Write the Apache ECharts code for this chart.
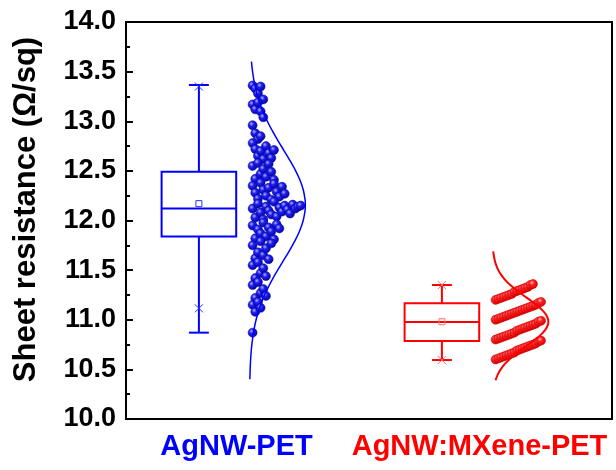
<!DOCTYPE html>
<html><head><meta charset="utf-8">
<script src="https://cdn.jsdelivr.net/npm/echarts@6/dist/echarts.min.js"></script>
<style>html,body{margin:0;padding:0;background:#fff}#c{width:616px;height:470px}</style>
</head><body><div id="c"></div>
<script>
// ---- data ----
const categories = ['AgNW-PET', 'AgNW:MXene-PET'];
const yTicks = [10.0, 10.5, 11.0, 11.5, 12.0, 12.5, 13.0, 13.5, 14.0];
// box stats: [min, Q1, median, Q3, max]
const blueBox = [10.87, 11.84, 12.12, 12.49, 13.365];
const redBox = [10.594, 10.786, 10.977, 11.166, 11.35];
const blueMean = 12.17;
const redMean = 10.98;
// 1% / 99% markers (x symbols)
const bluePct = [11.115, 13.35];
const redPct = [10.594, 11.35];
// individual measurements (data order)
const blueValues = [
  13.36, 13.33, 13.28, 13.35, 13.22,
  13.17, 13.12, 13.19, 13.10, 13.04,
  12.96, 12.88, 12.82, 12.85,
  12.78, 12.72, 12.65, 12.70, 12.62, 12.75, 12.68, 12.63, 12.71,
  12.55, 12.42, 12.58, 12.47, 12.52, 12.44, 12.57, 12.49, 12.41,
  12.35, 12.28, 12.22, 12.38, 12.31, 12.25, 12.33, 12.21, 12.37, 12.29, 12.24, 12.34, 12.27,
  12.12, 12.03, 12.17, 12.08, 12.01, 12.14, 12.10, 12.06, 12.19, 12.04, 12.13, 12.09, 12.15, 12.11, 12.07, 12.16, 12.12, 12.14, 12.15,
  11.95, 11.82, 11.91, 11.87, 11.98, 11.84, 11.93, 11.89, 11.81, 11.96, 11.92,
  11.75, 11.62, 11.68, 11.79, 11.65, 11.72, 11.61, 11.77,
  11.55, 11.42, 11.58, 11.47, 11.52, 11.44,
  11.35, 11.22, 11.38, 11.27, 11.31, 11.24,
  11.15, 11.08, 11.18, 11.12,
  10.87
];
const redValues = [
  10.60, 10.61, 10.62, 10.63, 10.64, 10.65, 10.66, 10.67, 10.69, 10.70, 10.71, 10.72, 10.73, 10.74, 10.75, 10.76, 10.78, 10.79,
  10.80, 10.81, 10.82, 10.83, 10.84, 10.85, 10.86, 10.87, 10.89, 10.90, 10.91, 10.92, 10.93, 10.94, 10.95, 10.96, 10.98, 10.99,
  11.00, 11.01, 11.02, 11.03, 11.04, 11.05, 11.06, 11.07, 11.08, 11.09, 11.10, 11.11, 11.12, 11.13, 11.14, 11.15, 11.17, 11.18,
  11.20, 11.21, 11.22, 11.23, 11.24, 11.25, 11.26, 11.28, 11.29, 11.30, 11.31, 11.32, 11.33, 11.35, 11.36
];
// distribution curves: value and relative density
const blueCurveV = [10.4,10.5,10.6,10.7,10.8,10.9,11.0,11.1,11.2,11.3,11.4,11.5,11.6,11.7,11.8,11.9,12.0,12.1,12.15,12.2,12.3,12.4,12.5,12.6,12.7,12.8,12.9,13.0,13.1,13.2,13.3,13.4,13.5,13.6];
const blueCurveD = [0.007,0.013,0.021,0.034,0.054,0.081,0.119,0.169,0.233,0.312,0.403,0.504,0.612,0.719,0.818,0.901,0.962,0.995,1.0,0.997,0.967,0.909,0.827,0.729,0.623,0.515,0.413,0.320,0.241,0.175,0.124,0.084,0.056,0.036];
const redCurveV = [10.39,10.45,10.5,10.55,10.6,10.65,10.7,10.75,10.8,10.85,10.9,10.95,10.98,11.0,11.05,11.1,11.15,11.2,11.25,11.3,11.35,11.4,11.45,11.5,11.55,11.6,11.65,11.69];
const redCurveD = [0.055,0.096,0.147,0.214,0.300,0.404,0.520,0.643,0.763,0.869,0.948,0.993,1.0,0.997,0.960,0.887,0.786,0.668,0.545,0.426,0.320,0.230,0.159,0.105,0.067,0.041,0.024,0.014];

// ---- layout / style ----
const BLUE = '#0000ff', RED = '#ff0000';
const catX = [1, 3];
const boxOffset = -0.4, boxHalf = 0.307, capHalf = 0.082;
const dotBase = 0.042, dotStep = 0.022, binW = 0.2;
const curveBase = 0.016, curveW = 0.46;
const FONT = '"Liberation Sans", Arial, sans-serif';

function binLayout(values, cx) {
  const counts = {};
  return values.map(v => {
    const b = Math.floor((v - 10) / binW + 1e-6);
    const k = counts[b] || 0; counts[b] = k + 1;
    return [cx + dotBase + k * dotStep, v];
  });
}
function curve(vs, ds, cx) { return vs.map((v, i) => [cx + curveBase + ds[i] * curveW, v]); }

const boxStats = [
  { box: blueBox, mean: blueMean, pct: bluePct },
  { box: redBox, mean: redMean, pct: redPct }
];
const boxData = boxStats.map((s, i) => [catX[i] + boxOffset, s.box[2]]);
const boxColors = [BLUE, RED];
const markColors = ['#3030ff', '#ff7070'];

function renderBox(params, api) {
  const i = params.dataIndex;
  const s = boxStats[i];
  const cx = api.value(0);
  const col = boxColors[i], mcol = markColors[i];
  const P = (x, y) => api.coord([x, y]);
  const left = P(cx - boxHalf, 12)[0], right = P(cx + boxHalf, 12)[0], mid = P(cx, 12)[0];
  const cl = P(cx - capHalf, 12)[0], cr = P(cx + capHalf, 12)[0];
  const y = v => P(cx, v)[1];
  const [yMin, yQ1, yMed, yQ3, yMax] = s.box.map(y);
  const yMean = y(s.mean), yP1 = y(s.pct[0]), yP99 = y(s.pct[1]);
  const ls = () => ({ stroke: col, lineWidth: 2 });
  const line = (x1, y1, x2, y2, st) => ({ type: 'line', shape: { x1, y1, x2, y2 }, style: st || ls() });
  const cross = (yy) => {
    const k = 4;
    return [line(mid - k, yy - k, mid + k, yy + k, { stroke: mcol, lineWidth: 1 }), line(mid - k, yy + k, mid + k, yy - k, { stroke: mcol, lineWidth: 1 })];
  };
  return {
    type: 'group',
    children: [
      { type: 'rect', shape: { x: left, y: yQ3, width: right - left, height: yQ1 - yQ3 }, style: { stroke: col, lineWidth: 2, fill: 'none' } },
      line(left, yMed, right, yMed),
      line(mid, yQ3, mid, yMax), line(mid, yQ1, mid, yMin),
      line(cl, yMax, cr, yMax), line(cl, yMin, cr, yMin),
      { type: 'rect', shape: { x: mid - 3, y: yMean - 3, width: 6, height: 6 }, style: { stroke: mcol, lineWidth: 1, fill: 'none' } },
      ...cross(yP1), ...cross(yP99)
    ]
  };
}

const ballBlue = { type: 'radial', x: 0.38, y: 0.35, r: 0.7, colorStops: [{ offset: 0, color: '#b0b0ff' }, { offset: 0.35, color: '#2020f0' }, { offset: 1, color: '#00009c' }] };
const ballRed = { type: 'radial', x: 0.38, y: 0.35, r: 0.7, colorStops: [{ offset: 0, color: '#ffc0c0' }, { offset: 0.35, color: '#ff2020' }, { offset: 1, color: '#d00000' }] };

const chart = echarts.init(document.getElementById('c'), null, { renderer: 'canvas' });
chart.setOption({
  animation: false,
  backgroundColor: '#ffffff',
  grid: { left: 126, top: 22, right: 4, bottom: 51, show: true, borderColor: '#000', borderWidth: 2, backgroundColor: 'rgba(0,0,0,0)' },
  xAxis: [
    {
      type: 'category', position: 'bottom', boundaryGap: true,
      data: categories.map((c, i) => ({ value: c, textStyle: { color: boxColors[i] } })),
      axisLine: { lineStyle: { color: '#000', width: 2 } },
      axisTick: { inside: true, alignWithLabel: true, length: 6, lineStyle: { color: '#000', width: 2 } },
      axisLabel: { interval: 0, fontFamily: FONT, fontWeight: 'bold', fontSize: 29, margin: 13, padding: [0, 22, 0, 0] },
      splitLine: { show: false }
    },
    { type: 'value', position: 'bottom', min: 0, max: 4, show: false }
  ],
  yAxis: {
    type: 'value', min: yTicks[0], max: yTicks[yTicks.length - 1], interval: 0.5,
    axisLine: { show: true, lineStyle: { color: '#000', width: 2 } },
    axisTick: { show: true, inside: true, length: 7, lineStyle: { color: '#000', width: 2 } },
    minorTick: { show: true, splitNumber: 2, length: 4, lineStyle: { color: '#000', width: 2 } },
    splitLine: { show: false },
    axisLabel: { formatter: v => v.toFixed(1), color: '#000', fontFamily: FONT, fontWeight: 'bold', fontSize: 27, margin: 10 },
    name: 'Sheet resistance (Ω/sq)', nameLocation: 'middle', nameGap: 84,
    nameTextStyle: { color: '#000', fontFamily: FONT, fontWeight: 'bold', fontSize: 31, padding: [0, 0, 0, 22] }
  },
  series: [
    { type: 'custom', xAxisIndex: 1, renderItem: renderBox, data: boxData, z: 3 },
    { type: 'scatter', xAxisIndex: 1, data: binLayout(blueValues, catX[0]), symbol: 'circle', symbolSize: 9,
      itemStyle: { color: ballBlue, borderColor: '#00009a', borderWidth: 0.5, opacity: 1 }, z: 4 },
    { type: 'scatter', xAxisIndex: 1, data: binLayout(redValues, catX[1]), symbol: 'circle', symbolSize: 9,
      itemStyle: { color: ballRed, borderColor: '#c80000', borderWidth: 0.5, opacity: 1 }, z: 4 },
    { type: 'line', xAxisIndex: 1, data: curve(blueCurveV, blueCurveD, catX[0]), showSymbol: false, smooth: 0.3,
      lineStyle: { color: BLUE, width: 1.5 }, z: 5 },
    { type: 'line', xAxisIndex: 1, data: curve(redCurveV, redCurveD, catX[1]), showSymbol: false, smooth: 0.3,
      lineStyle: { color: RED, width: 2 }, z: 5 }
  ]
});
</script>
</body></html>
